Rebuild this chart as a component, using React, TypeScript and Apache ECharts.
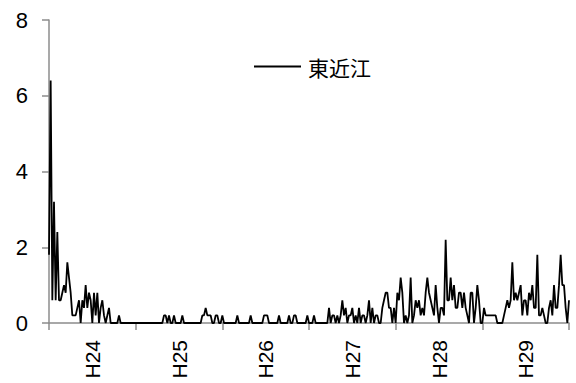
import React, { useEffect, useRef } from "react";
import * as echarts from "echarts";

const yearLabels = ["H24", "H25", "H26", "H27", "H28", "H29"];
const seriesName = "東近江";

// weekly values, H24 .. H29 (52 weeks each, plus final point)
const h24 = [1.8, 6.4, 0.6, 3.2, 0.6, 2.4, 0.6, 0.6, 0.8, 1.0, 0.8, 1.6, 1.2, 0.8, 0.2, 0.2, 0.2, 0.4, 0.6, 0, 0.6, 0.4, 1.0, 0.4, 0.8, 0.6, 0, 0.8, 0.2, 0.8, 0, 0.4, 0.6, 0.2, 0, 0.2, 0.4, 0, 0, 0, 0, 0, 0.2, 0, 0, 0, 0, 0, 0, 0, 0, 0];
const h25 = [0, 0, 0, 0, 0, 0, 0, 0, 0, 0, 0, 0, 0, 0, 0, 0, 0, 0.2, 0.2, 0, 0.2, 0, 0, 0.2, 0, 0, 0, 0, 0.2, 0, 0, 0, 0, 0, 0, 0, 0, 0, 0, 0, 0.2, 0.2, 0.4, 0.2, 0.2, 0.2, 0, 0, 0.2, 0.2, 0, 0];
const h26 = [0.2, 0, 0, 0, 0, 0, 0, 0, 0, 0.2, 0, 0, 0, 0, 0, 0, 0, 0.2, 0, 0, 0, 0, 0, 0, 0, 0.2, 0.2, 0.2, 0, 0, 0, 0, 0, 0, 0.2, 0, 0, 0, 0, 0, 0.2, 0, 0, 0.2, 0.2, 0, 0, 0, 0, 0, 0, 0.2];
const h27 = [0, 0, 0, 0.2, 0, 0, 0, 0, 0, 0, 0, 0, 0.4, 0, 0.2, 0.2, 0, 0.2, 0, 0.2, 0.6, 0.2, 0.4, 0, 0.2, 0.2, 0.4, 0, 0.2, 0, 0.4, 0, 0.2, 0.2, 0, 0.2, 0.6, 0, 0.4, 0, 0.2, 0.2, 0, 0, 0.4, 0.6, 0.8, 0.8, 0.4, 0.4, 0, 0.4];
const h28 = [0, 0.8, 0.6, 1.2, 0.8, 0, 0.2, 0, 0.2, 1.2, 0, 0.2, 0.6, 0.4, 0.6, 0.2, 0.4, 0.2, 0.8, 1.2, 0.8, 0.6, 0.4, 0.2, 1.0, 0.4, 0, 0.4, 0.4, 0.2, 2.2, 0.6, 0.6, 1.2, 0.6, 1.0, 0.4, 0.4, 0.8, 0.8, 0.4, 0.8, 0.4, 0.2, 0, 0.8, 0.8, 0, 0.4, 1.0, 0.6, 0];
const h29 = [0, 0.4, 0.2, 0.2, 0.2, 0.2, 0.2, 0.2, 0.2, 0, 0, 0, 0, 0.2, 0.4, 0.6, 0.4, 0.6, 1.6, 0.6, 0.8, 0.6, 0.8, 1.0, 0.2, 0.6, 0.6, 0.2, 0.8, 0.6, 1.0, 0.4, 0.4, 1.8, 0.2, 0.2, 0.4, 0.2, 0, 0, 0.4, 0.6, 0.2, 1.0, 0.4, 0.4, 1.0, 1.8, 1.0, 1.0, 0.4, 0, 0.6];

const yTicks = [0, 2, 4, 6, 8];

export default function App() {
  const ref = useRef<HTMLDivElement>(null);
  useEffect(() => {
    if (!ref.current) return;
    const chart = echarts.init(ref.current, null, { renderer: "svg" });
    const values = [...h24, ...h25, ...h26, ...h27, ...h28, ...h29];
    const data = values.map((v, i) => [i, v]);
    const weeksPerYear = 52;
    const total = weeksPerYear * yearLabels.length;
    const font = "'Liberation Sans', Arial, sans-serif";
    chart.setOption({
      animation: false,
      backgroundColor: "#ffffff",
      textStyle: { fontFamily: font },
      grid: { left: 49, right: 7, top: 20, bottom: 60, containLabel: false },
      legend: {
        data: [{ name: seriesName, icon: "rect" }],
        left: 249,
        top: 51,
        itemWidth: 47,
        itemHeight: 2,
        itemGap: 4,
        textStyle: {
          fontSize: 21,
          color: "#000",
          fontFamily: "'Noto Sans CJK JP', sans-serif",
          padding: [0, 0, 0, 2],
        },
      },
      xAxis: [
        {
          type: "value",
          min: 0,
          max: total,
          interval: weeksPerYear,
          axisLine: { show: true, lineStyle: { color: "#8c8c8c", width: 1.5 } },
          axisTick: { show: true, length: 7, lineStyle: { color: "#8c8c8c", width: 1.5 } },
          axisLabel: { show: false },
          splitLine: { show: false },
        },
        {
          type: "value",
          min: 0,
          max: total,
          interval: weeksPerYear / 2,
          position: "bottom",
          axisLine: { show: false },
          axisTick: { show: false },
          splitLine: { show: false },
          axisLabel: {
            show: true,
            rotate: 90,
            margin: 17,
            fontSize: 21,
            color: "#000",
            fontFamily: font,
            padding: [0, 0, 9, 0],
            showMinLabel: true,
            showMaxLabel: true,
            formatter: (v: number) => {
              const k = Math.round(v / (weeksPerYear / 2));
              if (k % 2 === 1) return yearLabels[(k - 1) / 2] || "";
              return "";
            },
          },
        },
      ],
      yAxis: {
        type: "value",
        min: 0,
        max: yTicks[yTicks.length - 1],
        interval: 2,
        axisLine: { show: true, lineStyle: { color: "#8c8c8c", width: 1.5 } },
        axisTick: { show: true, length: 7, lineStyle: { color: "#8c8c8c", width: 1.5 } },
        axisLabel: { fontSize: 22, color: "#000", margin: 21, fontFamily: font },
        splitLine: { show: false },
      },
      series: [
        {
          name: seriesName,
          type: "line",
          xAxisIndex: 0,
          data,
          symbol: "none",
          lineStyle: { color: "#000", width: 1.8 },
          itemStyle: { color: "#000" },
        },
      ],
    });
    return () => chart.dispose();
  }, []);
  return (
    <div
      ref={ref}
      style={{ position: "fixed", left: 0, top: 0, width: 576, height: 383 }}
    />
  );
}
